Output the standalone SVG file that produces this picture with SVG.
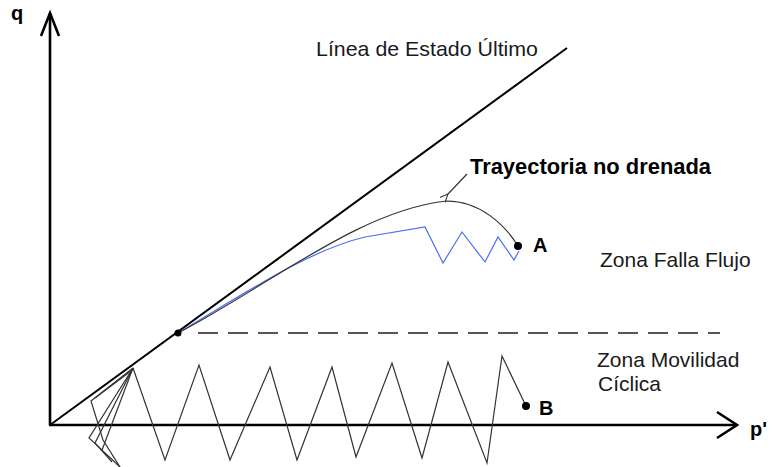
<svg xmlns="http://www.w3.org/2000/svg" width="773" height="467" viewBox="0 0 773 467">
<defs>
<style>
.t{font-family:"Liberation Sans",Arial,sans-serif;font-size:21px;fill:#1a1a1a}
.b{font-family:"Liberation Sans",Arial,sans-serif;font-weight:bold;fill:#000}
.ax{stroke:#000;stroke-width:2.6;fill:none}
.thin{stroke:#333;stroke-width:1.2;fill:none;stroke-linejoin:miter}
.blue{stroke:#4a6ef5;stroke-width:1.2;fill:none}
</style>
<marker id="ah" viewBox="0 0 10 10" refX="1" refY="5" markerWidth="9" markerHeight="9" orient="auto" markerUnits="userSpaceOnUse">
<path d="M10,1 L1,5 L10,9" fill="none" stroke="#333" stroke-width="1.2"/>
</marker>
</defs>
<rect width="773" height="467" fill="#fff"/>
<g id="axes">
<line class="ax" x1="50" y1="425" x2="50" y2="13"/>
<polyline class="ax" points="41,36 50,13 59,36" stroke-width="2"/>
<line class="ax" x1="49" y1="425" x2="737" y2="425"/>
<polyline class="ax" points="717,412 737,425 717,438" stroke-width="2"/>
<text class="b" x="11" y="20" font-size="20">q</text>
<text class="b" x="750" y="436" font-size="20">p'</text>
</g>
<g id="linea-estado-ultimo">
<line x1="50" y1="425" x2="567" y2="48" stroke="#000" stroke-width="2"/>
<text class="t" x="316" y="56" textLength="222" lengthAdjust="spacingAndGlyphs">Línea de Estado Último</text>
</g>
<g id="limite-zonas">
<line x1="198" y1="333" x2="720" y2="333" stroke="#555" stroke-width="2" stroke-dasharray="20 10"/>
<text class="t" x="600" y="267">Zona Falla Flujo</text>
<text class="t" x="597" y="367">Zona Movilidad</text>
<text class="t" x="598" y="391">Cíclica</text>
</g>
<g id="connectors">
<path class="blue" d="M178,333 C250,290 310,250 365,237 L425,227 L443,263 L462,232 L485,262 L498,237 L514,260 L519,251"/>
<path class="thin" d="M178,333 C270,285 360,210 447,201 C480,201 505,225 518,246"/>
<line class="thin" x1="467" y1="174" x2="448" y2="194" marker-end="url(#ah)"/>
<polyline class="thin" points="133,368 165,460 199,365 230,460 270,367 297,460 332,367 356,457 392,363 422,458 448,362 487,463 502,356 526,406"/>
<polyline class="thin" stroke="#555" points="133,368 91,401 103,440 120,467"/>
<polyline class="thin" stroke="#555" points="133,368 89,438 120,467"/>
<polyline class="thin" stroke="#555" points="133,368 95,443 112,462"/>
<line class="thin" stroke="#666" x1="133" y1="368" x2="102" y2="450"/>
<line class="thin" stroke="#666" x1="131" y1="371" x2="95" y2="398"/>
</g>
<g id="punto-inicio"><circle cx="178" cy="333" r="3.5" fill="#000"/></g>
<g id="punto-A">
<circle cx="518" cy="246" r="4" fill="#000"/>
<text class="b" x="533" y="252" font-size="20">A</text>
</g>
<g id="punto-B">
<circle cx="526" cy="406" r="4" fill="#000"/>
<text class="b" x="539" y="415" font-size="20">B</text>
</g>
<g id="trayectoria-label">
<text class="b" x="470" y="174" font-size="22" textLength="241" lengthAdjust="spacingAndGlyphs">Trayectoria no drenada</text>
</g>
</svg>
